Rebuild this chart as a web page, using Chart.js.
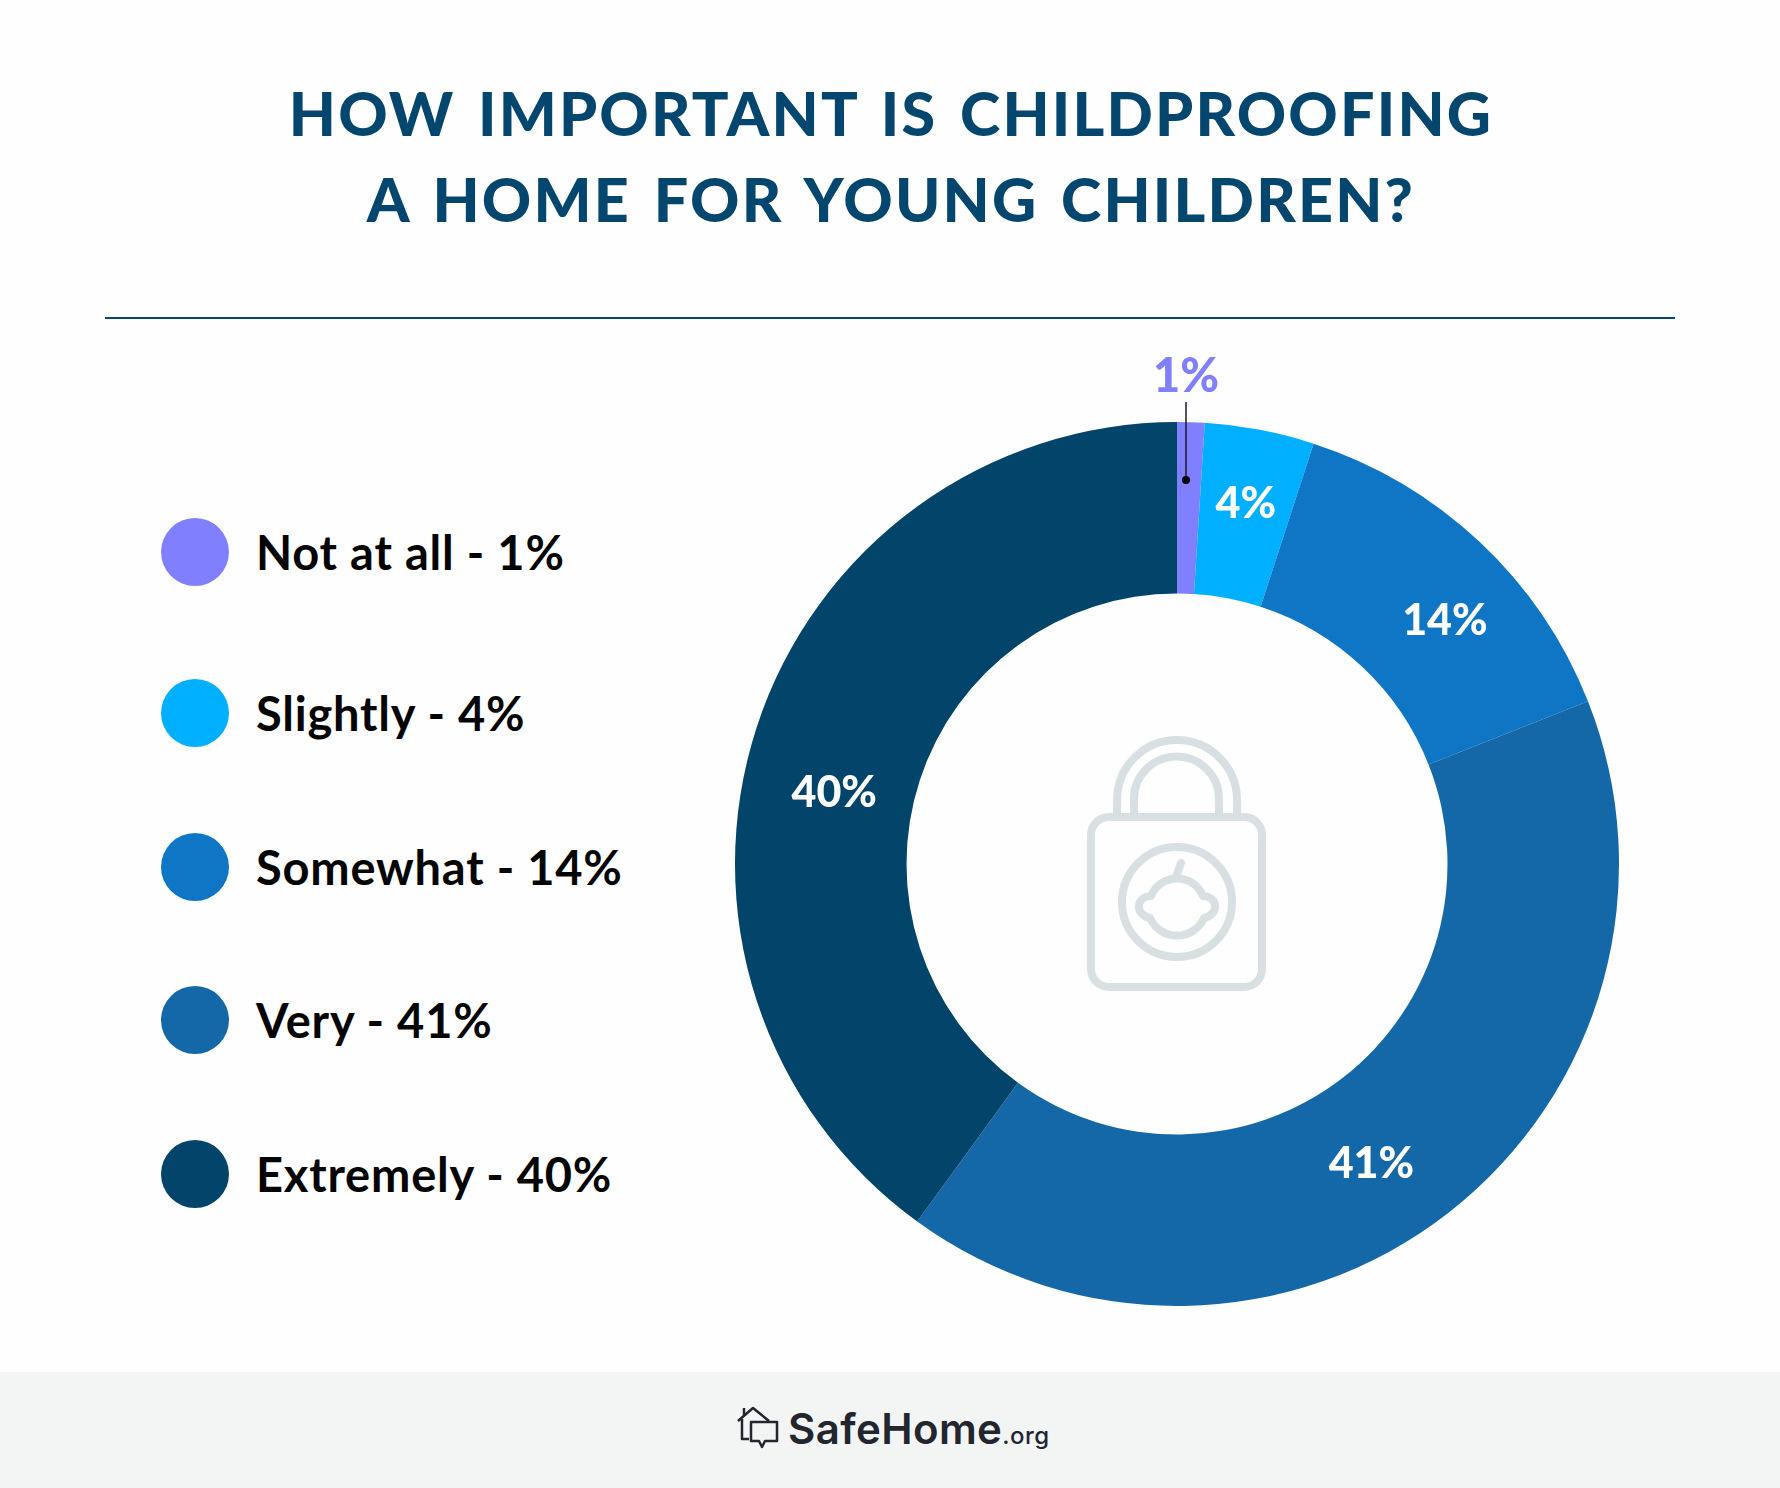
<!DOCTYPE html>
<html>
<head>
<meta charset="utf-8">
<title>Childproofing</title>
<script src="https://cdn.jsdelivr.net/npm/chart.js@4/dist/chart.umd.min.js"></script>
<style>
    html, body { margin: 0; padding: 0; background: #fefefe; }
    #page { position: relative; width: 1780px; height: 1488px; overflow: hidden; font-family: Lato, sans-serif; }
    h1 { position: absolute; left: 0; top: 70px; width: 1782px; margin: 0; text-align: center; color: #04466e;
         font-size: 61px; line-height: 86px; font-weight: 900; letter-spacing: 2.2px; word-spacing: 6px; }
    #rule { position: absolute; left: 105px; top: 317px; width: 1570px; height: 2px; background: #04466e; }
    #chartCanvas { position: absolute; left: 637px; top: 324px; }
    .legend-item { position: absolute; left: 161px; height: 68px; display: flex; align-items: center; }
    .legend-dot { width: 68px; height: 68px; border-radius: 50%; }
    .legend-text { margin-left: 27px; font-size: 47px; font-weight: 700; color: #050505; white-space: nowrap; letter-spacing: 0.8px; }
    #lock { position: absolute; left: 0; top: 0; }
    #footer { position: absolute; left: 0; top: 1372px; width: 1780px; height: 116px; background: #f3f5f5; }
    #brand { position: absolute; left: 788px; top: 1404px; color: #23262f; font-family: Inter, sans-serif;
             font-size: 42px; font-weight: 600; line-height: 50px; white-space: nowrap; letter-spacing: 0.4px; }
    #brand span { font-size: 24px; font-weight: 500; }
</style>
</head>
<body>
<div id="page">
    <h1>HOW IMPORTANT IS CHILDPROOFING<br>A HOME FOR YOUNG CHILDREN?</h1>
    <div id="rule"></div>
    <div id="legend"></div>
    <canvas id="chartCanvas" width="1080" height="1080"></canvas>
    <svg id="lock" width="1780" height="1488" fill="none" stroke="#d9e0e4" stroke-width="8" stroke-linejoin="round" stroke-linecap="round">
        <rect x="1091" y="817" width="171" height="170" rx="18"/>
        <path d="M1117 815 V800 A60 60 0 0 1 1237 800 V815"/>
        <path d="M1134 815 V799 A42.5 42.5 0 0 1 1219 799 V815"/>
        <circle cx="1177" cy="902" r="55"/>
        <path d="M1151 896 A28 28 0 0 1 1203 896 C1219 897 1219 915 1204 918 A29.5 29.5 0 0 1 1150 918 C1135 915 1135 897 1151 896 Z"/>
        <path d="M1176 877 L1181 863"/>
    </svg>
    <div id="footer"></div>
    <svg id="logo" width="1780" height="1488" style="position:absolute;left:0;top:0" fill="none" stroke="#23262f" stroke-width="2.5" stroke-linejoin="round">
        <path d="M738 1421 L753 1408 L769 1421 M744 1408 V1416 M742 1419 V1439 H749"/>
        <path d="M751 1422 H777 V1441 H765 L762 1447 L759 1441 H751 Z"/>
    </svg>
    <div id="brand">SafeHome<span>.org</span></div>
</div>

<script>
// values
const categories = ['Not at all', 'Slightly', 'Somewhat', 'Very', 'Extremely'];
const shares = [1, 4, 14, 41, 40];
const sliceColors = ['#8080ff', '#00b0ff', '#0f75c5', '#1568a7', '#03446a'];
const legendTops = [518, 679, 833, 986, 1140];

// nudges of the printed labels away from the slice middle, in pixels
const labelNudges = [[0, 0], [2, -10], [24, 17], [-24, 19], [-4, 39]];

document.getElementById('legend').innerHTML = categories.map((name, i) => `
    <div class="legend-item" style="top:${legendTops[i]}px">
        <div class="legend-dot" style="background:${sliceColors[i]}"></div>
        <div class="legend-text">${name} - ${shares[i]}%</div>
    </div>
`).join('');

const sliceLabels = {
    id: 'sliceLabels',
    afterDatasetsDraw(chart) {
        const ctx = chart.ctx;
        const arcs = chart.getDatasetMeta(0).data;
        ctx.save();
        ctx.textAlign = 'center';
        ctx.textBaseline = 'middle';
        ctx.font = '900 43px Lato, sans-serif';
        arcs.forEach((arc, i) => {
            const text = shares[i] + '%';
            if (i === 0) {
                // the thin slice gets its label above the ring and a leader line
                const x = arc.x + 9;
                ctx.strokeStyle = '#1a1a2a';
                ctx.lineWidth = 1.5;
                ctx.beginPath();
                ctx.moveTo(x, arc.y - arc.outerRadius - 20);
                ctx.lineTo(x, arc.y - arc.outerRadius + 58);
                ctx.stroke();
                ctx.fillStyle = '#000';
                ctx.beginPath();
                ctx.arc(x, arc.y - arc.outerRadius + 58, 4, 0, Math.PI * 2);
                ctx.fill();
                ctx.fillStyle = sliceColors[0];
                ctx.font = '900 47px Lato, sans-serif';
                ctx.fillText(text, x, arc.y - arc.outerRadius - 45);
                ctx.font = '900 43px Lato, sans-serif';
                return;
            }
            const p = arc.getCenterPoint();
            ctx.fillStyle = '#fff';
            ctx.fillText(text, p.x + labelNudges[i][0], p.y + labelNudges[i][1]);
        });
        ctx.restore();
    }
};

new Chart(document.getElementById('chartCanvas').getContext('2d'), {
    type: 'doughnut',
    data: {
        labels: categories,
        datasets: [{
            data: shares,
            backgroundColor: sliceColors,
            borderWidth: 0
        }]
    },
    options: {
        responsive: false,
        animation: false,
        cutout: '61.2%',
        layout: { padding: 98 },
        plugins: { legend: { display: false }, tooltip: { enabled: false } }
    },
    plugins: [sliceLabels]
});
</script>
</body>
</html>
